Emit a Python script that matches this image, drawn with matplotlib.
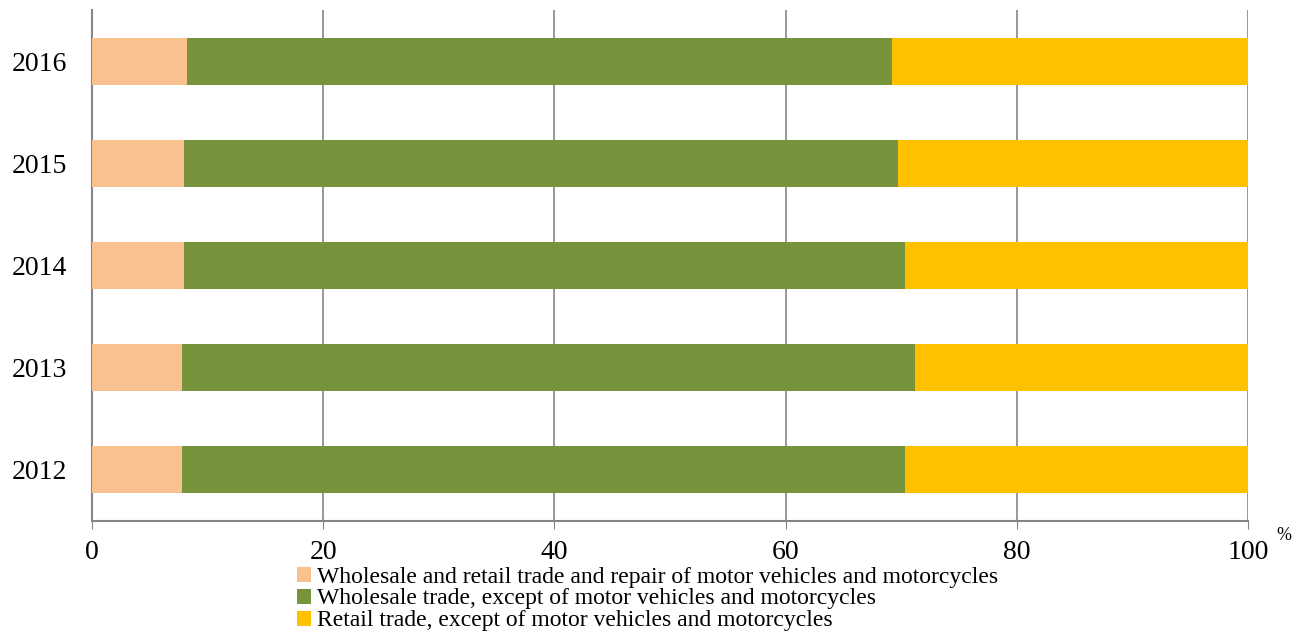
import matplotlib.pyplot as plt
import numpy as np
from matplotlib.patches import Patch

plt.rcParams['font.family'] = ['Liberation Serif', 'DejaVu Serif']

# Data: shares in %
years = ['2012', '2013', '2014', '2015', '2016']
repair = [7.8, 7.8, 8.0, 8.0, 8.2]
wholesale = [62.5, 63.4, 62.3, 61.75, 61.0]
retail = [29.7, 28.8, 29.7, 30.25, 30.8]

labels = ['Wholesale and retail trade and repair of motor vehicles and motorcycles',
          'Wholesale trade, except of motor vehicles and motorcycles',
          'Retail trade, except of motor vehicles and motorcycles']
colors = ['#F9C090', '#77933C', '#FFC000']

fig = plt.figure(figsize=(12.96, 6.33), dpi=100)
ax = fig.add_axes([0.071, 0.177, 0.892, 0.807])

y = np.arange(len(years))
h = 0.46
left = np.zeros(len(years))
for vals, c in zip([repair, wholesale, retail], colors):
    ax.barh(y, vals, left=left, height=h, color=c, zorder=3)
    left += np.array(vals)

ax.set_xlim(0, 100)
ax.set_ylim(-0.5, 4.5)
ax.set_yticks(y)
ax.set_yticklabels(years, fontsize=20)
ax.set_xticks([0, 20, 40, 60, 80, 100])
ax.set_xticklabels(['0', '20', '40', '60', '80', '100'], fontsize=20)
ax.tick_params(axis='y', length=0, pad=18)
ax.tick_params(axis='x', length=6, color='#868686', pad=8)
ax.grid(axis='x', color='#868686', linewidth=1.2, zorder=0)
for s in ['top', 'right']:
    ax.spines[s].set_visible(False)
for s in ['left', 'bottom']:
    ax.spines[s].set_color('#868686')
    ax.spines[s].set_linewidth(1.5)

fig.text(0.991, 0.154, '%', fontsize=13, ha='center', va='center')

# legend rows drawn as a figure legend under the axis
handles = [Patch(facecolor=c, edgecolor='none') for c in colors]
fig.legend(handles, labels, loc='upper left', bbox_to_anchor=(0.229, 0.105),
           frameon=False, fontsize=17, handlelength=0.6, handleheight=0.6,
           handletextpad=0.25, labelspacing=0.04, borderpad=0, borderaxespad=0)

fig.savefig('out.png', dpi=100)
